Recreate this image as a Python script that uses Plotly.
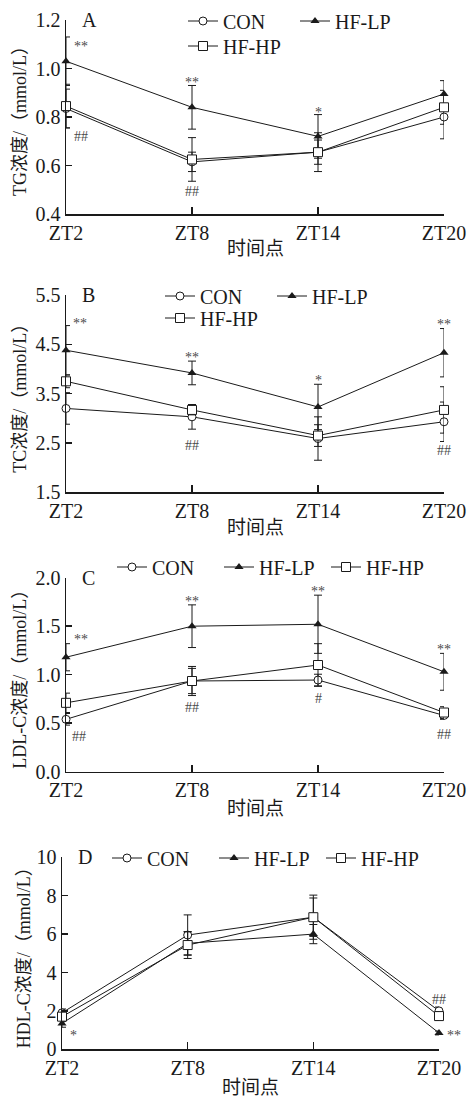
import plotly.graph_objects as go

# ---------------- data ----------------
times = ["ZT2", "ZT8", "ZT14", "ZT20"]
groups = ["CON", "HF-LP", "HF-HP"]

tg_con = [0.835, 0.615, 0.655, 0.80]
tg_con_sd = [0.08, 0.04, 0.05, 0.09]
tg_lp = [1.03, 0.84, 0.72, 0.895]
tg_lp_sd = [0.10, 0.09, 0.09, 0.055]
tg_hp = [0.845, 0.625, 0.655, 0.84]
tg_hp_sd = [0.09, 0.09, 0.08, 0.07]

tc_con = [3.20, 3.03, 2.59, 2.93]
tc_con_sd = [0.32, 0.25, 0.44, 0.40]
tc_lp = [4.38, 3.92, 3.23, 4.33]
tc_lp_sd = [0.50, 0.24, 0.46, 0.49]
tc_hp = [3.75, 3.17, 2.65, 3.17]
tc_hp_sd = [0.13, 0.10, 0.22, 0.47]

ldl_con = [0.54, 0.935, 0.945, 0.58]
ldl_con_sd = [0.06, 0.13, 0.06, 0.04]
ldl_lp = [1.18, 1.50, 1.52, 1.03]
ldl_lp_sd = [0.14, 0.22, 0.30, 0.19]
ldl_hp = [0.71, 0.935, 1.10, 0.61]
ldl_hp_sd = [0.10, 0.15, 0.22, 0.06]

hdl_con = [1.90, 5.95, 6.88, 2.00]
hdl_con_sd = [0.20, 1.05, 1.00, 0.20]
hdl_lp = [1.35, 5.52, 6.00, 0.85]
hdl_lp_sd = [0.20, 0.60, 0.50, 0.10]
hdl_hp = [1.70, 5.43, 6.88, 1.73]
hdl_hp_sd = [0.25, 0.70, 1.15, 0.22]

panel_letters = ["A", "B", "C", "D"]
y_titles = ["TG浓度/（mmol/L）", "TC浓度/（mmol/L）", "LDL-C浓度/（mmol/L）", "HDL-C浓度/（mmol/L）"]
y_ranges = [[0.4, 1.2], [1.5, 5.5], [0.0, 2.0], [0, 10]]
y_ticks = [[0.4, 0.6, 0.8, 1.0, 1.2], [1.5, 2.5, 3.5, 4.5, 5.5], [0.0, 0.5, 1.0, 1.5, 2.0], [0, 2, 4, 6, 8, 10]]
y_ticktext = [["0.4", "0.6", "0.8", "1.0", "1.2"], ["1.5", "2.5", "3.5", "4.5", "5.5"],
              ["0.0", "0.5", "1.0", "1.5", "2.0"], ["0", "2", "4", "6", "8", "10"]]
x_title = "时间点"

# significance marks: (panel, time index, value, text, xshift)
sig_marks = [
    (0, 0, 1.105, "**", 6), (0, 0, 0.718, "##", 6), (0, 1, 0.953, "**", 0),
    (0, 1, 0.492, "##", 0), (0, 2, 0.829, "*", 0),
    (1, 0, 4.99, "**", 5), (1, 1, 4.30, "**", 0), (1, 1, 2.44, "##", 0),
    (1, 2, 3.82, "*", 0), (1, 3, 4.97, "**", 0), (1, 3, 2.34, "##", 0),
    (2, 0, 1.39, "**", 6), (2, 0, 0.36, "##", 4), (2, 1, 1.79, "**", 0),
    (2, 1, 0.66, "##", 0), (2, 2, 1.89, "**", 0), (2, 2, 0.757, "#", 0),
    (2, 3, 1.29, "**", 0), (2, 3, 0.386, "##", 0),
    (3, 0, 0.85, "*", 6), (3, 3, 2.62, "##", 0), (3, 3, 0.85, "**", 6),
]

panel_data = [
    [(tg_con, tg_con_sd), (tg_lp, tg_lp_sd), (tg_hp, tg_hp_sd)],
    [(tc_con, tc_con_sd), (tc_lp, tc_lp_sd), (tc_hp, tc_hp_sd)],
    [(ldl_con, ldl_con_sd), (ldl_lp, ldl_lp_sd), (ldl_hp, ldl_hp_sd)],
    [(hdl_con, hdl_con_sd), (hdl_lp, hdl_lp_sd), (hdl_hp, hdl_hp_sd)],
]

# ---------------- layout geometry (pixels) ----------------
W, H = 467, 1097
SERIF = "Liberation Serif"
SERIF_CJK = "Liberation Serif, Noto Sans CJK SC"
INK = "#1a1a1a"

x_px = [(66, 444), (66, 444), (66, 444), (62, 439)]
y_px = [(20, 214), (295, 492.3), (577.7, 771.7), (857.3, 1049.3)]
ytitle_x = [20, 20, 20, 24]
xtitle_y = [249, 527, 808, 1087]

# legend rows: (panel, list of group indices, line-start x px, center y px, entry width)
legend_rows = [
    (0, [0, 1], 188, 21, 67), (0, [2], 188, 46, 67),
    (1, [0, 1], 165, 296, 67), (1, [2], 165, 318, 67),
    (2, [0, 1, 2], 117, 567, 62),
    (3, [0, 1, 2], 112, 858, 62),
]

marker_styles = [
    dict(symbol="circle", size=8, color="white", line=dict(color=INK, width=1)),
    dict(symbol="triangle-up", size=8, color=INK, line=dict(color=INK, width=0)),
    dict(symbol="square", size=9, color="white", line=dict(color=INK, width=1)),
]

fig = go.Figure()

legend_of = {}
for li, row in enumerate(legend_rows):
    for g in row[1]:
        legend_of[(row[0], g)] = "legend" if li == 0 else f"legend{li + 1}"

for p in range(4):
    xa = "x" if p == 0 else f"x{p + 1}"
    ya = "y" if p == 0 else f"y{p + 1}"
    for g in range(3):
        vals, sds = panel_data[p][g]
        fig.add_trace(go.Scatter(
            x=list(range(len(times))), y=vals,
            mode="lines+markers", name=groups[g],
            xaxis=xa, yaxis=ya,
            line=dict(color=INK, width=1),
            marker=marker_styles[g],
            error_y=dict(type="data", array=sds, visible=True, thickness=1, width=4, color=INK),
            cliponaxis=False,
            legend=legend_of[(p, g)],
            showlegend=True,
        ))

layout = dict(
    width=W, height=H, margin=dict(l=0, r=0, t=0, b=0, autoexpand=False),
    paper_bgcolor="white", plot_bgcolor="white",
    font=dict(family=SERIF, size=20, color=INK),
    showlegend=True,
)

for p in range(4):
    xk = "xaxis" if p == 0 else f"xaxis{p + 1}"
    yk = "yaxis" if p == 0 else f"yaxis{p + 1}"
    ya = "y" if p == 0 else f"y{p + 1}"
    xa = "x" if p == 0 else f"x{p + 1}"
    x0, x1 = x_px[p]
    y0, y1 = y_px[p]
    layout[xk] = dict(
        domain=[x0 / W, x1 / W], anchor=ya, range=[0, 3],
        tickmode="array", tickvals=list(range(len(times))), ticktext=times,
        showline=True, linecolor=INK, linewidth=1.5, mirror=False,
        ticks="inside", ticklen=7, tickwidth=1.5, tickcolor=INK,
        showgrid=False, zeroline=False, automargin=False,
        tickfont=dict(family=SERIF, size=20, color=INK),
        fixedrange=True,
    )
    layout[yk] = dict(
        domain=[1 - y1 / H, 1 - y0 / H], anchor=xa, range=y_ranges[p],
        tickmode="array", tickvals=y_ticks[p], ticktext=y_ticktext[p],
        showline=True, linecolor=INK, linewidth=1.5, mirror=False,
        ticks="inside", ticklen=6, tickwidth=1.5, tickcolor=INK,
        showgrid=False, zeroline=False, automargin=False,
        tickfont=dict(family=SERIF, size=20, color=INK),
        fixedrange=True,
    )

for li, (p, gis, lx, ly, ew) in enumerate(legend_rows):
    key = "legend" if li == 0 else f"legend{li + 1}"
    layout[key] = dict(
        orientation="h", x=(lx - 5) / W, y=1 - ly / H,
        xanchor="left", yanchor="middle",
        font=dict(family=SERIF, size=20, color=INK),
        bgcolor="rgba(0,0,0,0)", borderwidth=0,
        itemwidth=30, entrywidth=ew, entrywidthmode="pixels",
        traceorder="normal", tracegroupgap=0, itemclick=False, itemdoubleclick=False,
    )

annotations = []
for p in range(4):
    x0, x1 = x_px[p]
    y0, y1 = y_px[p]
    annotations.append(dict(
        text=panel_letters[p], xref="paper", yref="paper",
        x=(x0 + 14) / W, y=1 - y0 / H, xanchor="left", yanchor="middle",
        showarrow=False, font=dict(family=SERIF, size=20, color=INK)))
    annotations.append(dict(
        text=y_titles[p], xref="paper", yref="paper", textangle=-90,
        x=ytitle_x[p] / W, y=1 - (y0 + y1) / 2 / H, xanchor="center", yanchor="middle",
        showarrow=False, font=dict(family=SERIF_CJK, size=18, color=INK)))
    annotations.append(dict(
        text=x_title, xref="paper", yref="paper",
        x=(x0 + x1) / 2 / W, y=1 - xtitle_y[p] / H, xanchor="center", yanchor="middle",
        showarrow=False, font=dict(family=SERIF_CJK, size=19, color=INK)))

for (p, ti, v, txt, xs) in sig_marks:
    xa = "x" if p == 0 else f"x{p + 1}"
    ya = "y" if p == 0 else f"y{p + 1}"
    annotations.append(dict(
        text=txt, xref=xa, yref=ya, x=ti, y=v, xshift=xs,
        yshift=-3 if "*" in txt else 0,
        xanchor="left" if xs else "center", yanchor="middle",
        showarrow=False, font=dict(family=SERIF, size=14, color="#4a4a4a")))

layout["annotations"] = annotations
fig.update_layout(**layout)
fig.write_html(
    "out.html",
    config={"displayModeBar": False, "staticPlot": True},
    post_script="document.body.style.margin='0px';document.body.style.overflow='hidden';",
)
